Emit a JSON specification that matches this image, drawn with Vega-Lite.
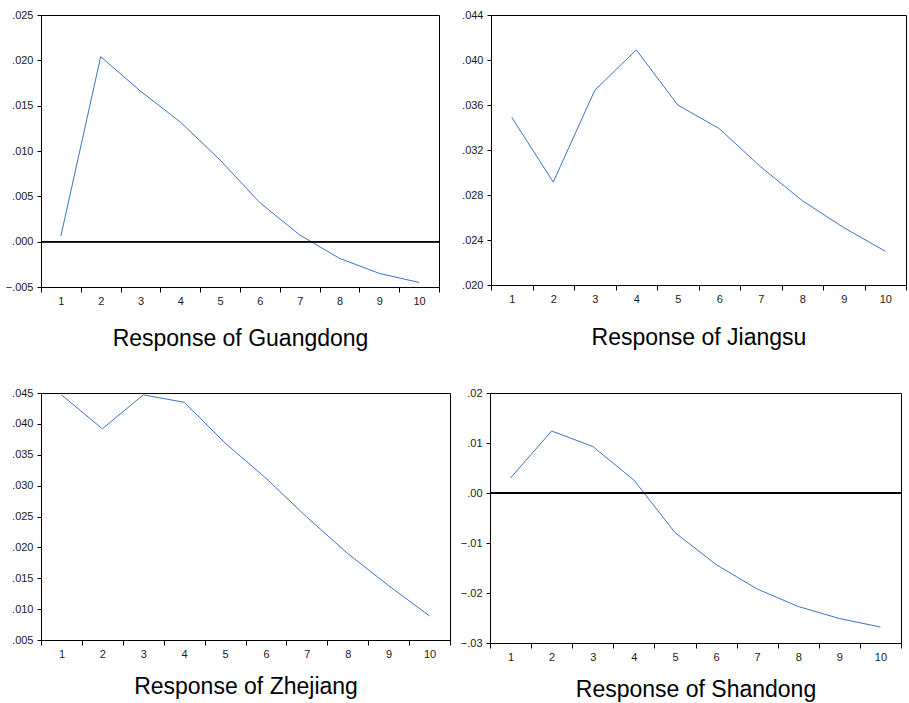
{
  "$schema": "https://vega.github.io/schema/vega-lite/v6.json",
  "background": "white",
  "padding": {"left": 0, "top": 8, "right": 0, "bottom": 0},
  "config": {
    "view": {"stroke": "black", "strokeWidth": 1},
    "axis": {
      "grid": false,
      "domainColor": "black",
      "tickColor": "black",
      "labelFont": "Liberation Sans",
      "labelFontSize": 11,
      "labelColor": "#1a1a1a",
      "titleFont": "Liberation Sans",
      "titleFontSize": 23,
      "titleFontWeight": "normal",
      "titleColor": "black"
    },
    "axisY": {"tickSize": 4, "labelPadding": 4, "title": null},
    "axisX": {"tickSize": 5, "labelPadding": 3, "labelAngle": 0, "tickBand": "extent"}
  },
  "datasets": {
    "irf": [
      {"region": "Guangdong", "period": 1, "value": 0.00063},
      {"region": "Guangdong", "period": 2, "value": 0.0204},
      {"region": "Guangdong", "period": 3, "value": 0.0166},
      {"region": "Guangdong", "period": 4, "value": 0.0132},
      {"region": "Guangdong", "period": 5, "value": 0.0090},
      {"region": "Guangdong", "period": 6, "value": 0.0043},
      {"region": "Guangdong", "period": 7, "value": 0.00074},
      {"region": "Guangdong", "period": 8, "value": -0.00184},
      {"region": "Guangdong", "period": 9, "value": -0.0035},
      {"region": "Guangdong", "period": 10, "value": -0.0045},
      {"region": "Jiangsu", "period": 1, "value": 0.0349},
      {"region": "Jiangsu", "period": 2, "value": 0.02915},
      {"region": "Jiangsu", "period": 3, "value": 0.0373},
      {"region": "Jiangsu", "period": 4, "value": 0.0409},
      {"region": "Jiangsu", "period": 5, "value": 0.0360},
      {"region": "Jiangsu", "period": 6, "value": 0.0339},
      {"region": "Jiangsu", "period": 7, "value": 0.0305},
      {"region": "Jiangsu", "period": 8, "value": 0.0275},
      {"region": "Jiangsu", "period": 9, "value": 0.0251},
      {"region": "Jiangsu", "period": 10, "value": 0.0230},
      {"region": "Zhejiang", "period": 1, "value": 0.0447},
      {"region": "Zhejiang", "period": 2, "value": 0.0392},
      {"region": "Zhejiang", "period": 3, "value": 0.0447},
      {"region": "Zhejiang", "period": 4, "value": 0.0435},
      {"region": "Zhejiang", "period": 5, "value": 0.0369},
      {"region": "Zhejiang", "period": 6, "value": 0.0312},
      {"region": "Zhejiang", "period": 7, "value": 0.0249},
      {"region": "Zhejiang", "period": 8, "value": 0.0190},
      {"region": "Zhejiang", "period": 9, "value": 0.0138},
      {"region": "Zhejiang", "period": 10, "value": 0.0089},
      {"region": "Shandong", "period": 1, "value": 0.0030},
      {"region": "Shandong", "period": 2, "value": 0.0124},
      {"region": "Shandong", "period": 3, "value": 0.0093},
      {"region": "Shandong", "period": 4, "value": 0.0026},
      {"region": "Shandong", "period": 5, "value": -0.0079},
      {"region": "Shandong", "period": 6, "value": -0.0143},
      {"region": "Shandong", "period": 7, "value": -0.0192},
      {"region": "Shandong", "period": 8, "value": -0.0227},
      {"region": "Shandong", "period": 9, "value": -0.0251},
      {"region": "Shandong", "period": 10, "value": -0.0268}
    ]
  },
  "spacing": 35,
  "vconcat": [
    {
      "spacing": 16,
      "hconcat": [
        {
          "width": 398, "height": 272,
          "data": {"name": "irf"},
          "transform": [{"filter": "datum.region === 'Guangdong'"}],
          "layer": [
            {
              "mark": {"type": "line", "color": "#3c73c8", "strokeWidth": 1},
              "encoding": {
                "x": {"field": "period", "type": "ordinal", "scale": {"type": "band", "paddingInner": 0, "paddingOuter": 0},
                      "axis": {"title": "Response of Guangdong", "titlePadding": 21}},
                "y": {"field": "value", "type": "quantitative",
                      "scale": {"domain": [-0.005, 0.025], "nice": false, "zero": false},
                      "axis": {"values": [-0.005, 0, 0.005, 0.01, 0.015, 0.02, 0.025], "labelExpr": "replace(format(datum.value, '.3f'), '0.', '.')", "minExtent": 33, "maxExtent": 33}}
              }
            },
            {
              "mark": {"type": "rule", "color": "black", "strokeWidth": 1},
              "encoding": {"y": {"datum": 0, "type": "quantitative"}}
            }
          ]
        },
        {
          "width": 415, "height": 270,
          "data": {"name": "irf"},
          "transform": [{"filter": "datum.region === 'Jiangsu'"}],
          "layer": [
            {
              "mark": {"type": "line", "color": "#3c73c8", "strokeWidth": 1},
              "encoding": {
                "x": {"field": "period", "type": "ordinal", "scale": {"type": "band", "paddingInner": 0, "paddingOuter": 0},
                      "axis": {"title": "Response of Jiangsu", "titlePadding": 22}},
                "y": {"field": "value", "type": "quantitative",
                      "scale": {"domain": [0.02, 0.044], "nice": false, "zero": false},
                      "axis": {"values": [0.02, 0.024, 0.028, 0.032, 0.036, 0.04, 0.044], "labelExpr": "replace(format(datum.value, '.3f'), '0.', '.')", "minExtent": 34, "maxExtent": 34}}
              }
            }
          ]
        }
      ]
    },
    {
      "spacing": 8,
      "hconcat": [
        {
          "width": 409, "height": 247,
          "data": {"name": "irf"},
          "transform": [{"filter": "datum.region === 'Zhejiang'"}],
          "layer": [
            {
              "mark": {"type": "line", "color": "#3c73c8", "strokeWidth": 1},
              "encoding": {
                "x": {"field": "period", "type": "ordinal", "scale": {"type": "band", "paddingInner": 0, "paddingOuter": 0},
                      "axis": {"title": "Response of Zhejiang", "titlePadding": 16}},
                "y": {"field": "value", "type": "quantitative",
                      "scale": {"domain": [0.005, 0.045], "nice": false, "zero": false},
                      "axis": {"values": [0.005, 0.01, 0.015, 0.02, 0.025, 0.03, 0.035, 0.04, 0.045], "labelExpr": "replace(format(datum.value, '.3f'), '0.', '.')", "minExtent": 40, "maxExtent": 40}}
              }
            }
          ]
        },
        {
          "width": 411, "height": 250,
          "data": {"name": "irf"},
          "transform": [{"filter": "datum.region === 'Shandong'"}],
          "layer": [
            {
              "mark": {"type": "line", "color": "#3c73c8", "strokeWidth": 1},
              "encoding": {
                "x": {"field": "period", "type": "ordinal", "scale": {"type": "band", "paddingInner": 0, "paddingOuter": 0},
                      "axis": {"title": "Response of Shandong", "titlePadding": 16}},
                "y": {"field": "value", "type": "quantitative",
                      "scale": {"domain": [-0.03, 0.02], "nice": false, "zero": false},
                      "axis": {"values": [-0.03, -0.02, -0.01, 0, 0.01, 0.02], "labelExpr": "replace(format(datum.value, '.2f'), '0.', '.')", "minExtent": 28, "maxExtent": 28}}
              }
            },
            {
              "mark": {"type": "rule", "color": "black", "strokeWidth": 1},
              "encoding": {"y": {"datum": 0, "type": "quantitative"}}
            }
          ]
        }
      ]
    }
  ]
}
